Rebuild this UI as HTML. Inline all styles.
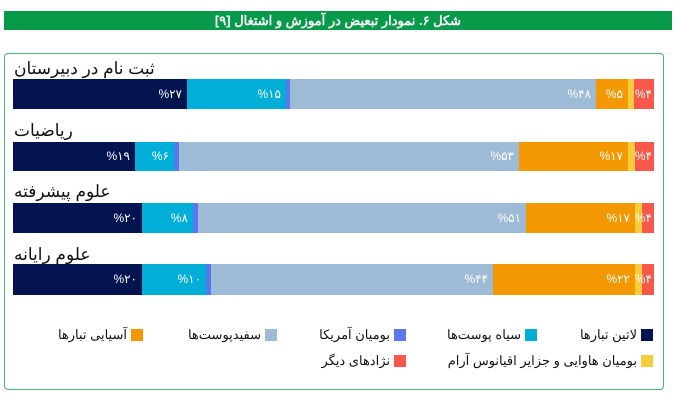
<!DOCTYPE html>
<html><head><meta charset="utf-8"><style>
body{margin:0;width:676px;height:407px;background:#fff;position:relative;overflow:hidden;font-family:"Liberation Sans","Noto Sans CJK SC",sans-serif}
.hdr{position:absolute;left:4px;top:11px;width:668px;height:19px;background:#069a4a;color:#fff;font-size:13px;font-weight:bold;text-align:center;line-height:19px;direction:rtl}
.box{position:absolute;left:4px;top:53px;width:658px;height:335px;border:1.5px solid #4db47a;border-radius:4px}
.t{position:absolute;left:14px;font-size:17px;color:#111;direction:rtl;white-space:nowrap;line-height:20px}
.s{position:absolute;height:31px}
.l{position:absolute;color:#fff;font-size:12px;line-height:31px;direction:ltr;white-space:nowrap}
.sq{position:absolute;width:12px;height:12px}
.lg{position:absolute;font-size:13px;color:#111;direction:rtl;white-space:nowrap;text-align:right;line-height:14px}
</style></head><body>
<div class="hdr">شکل ۶. نمودار تبعیض در آموزش و اشتغال [۹]</div>
<div class="box"></div>
<div id="c"></div>
<script>
const cols=['#041450','#00aed8','#5a78ee','#9dbad6','#f39800','#f5cc3c','#f9574a'];
const bars=[
 {t:'ثبت نام در دبیرستان',y:79,h:30,ty:59,e:[187,286,290,596,628,634,654],lab:['%۲۷','%۱۵','','%۴۸','%۵','','%۴']},
 {t:'ریاضیات',y:142,h:29,ty:121,e:[135,174,179,519,628,635,654],lab:['%۱۹','%۶','','%۵۳','%۱۷','','%۴']},
 {t:'علوم پیشرفته',y:203,h:30,ty:182,e:[142,193,198,526,635,642,654],lab:['%۲۰','%۸','','%۵۱','%۱۷','','%۴']},
 {t:'علوم رایانه',y:264,h:31,ty:245,e:[142,206,211,493,635,642,654],lab:['%۲۰','%۱۰','','%۴۴','%۲۲','','%۴']}];
let h='';
bars.forEach(b=>{
 h+=`<div class="t" style="top:${b.ty}px">${b.t}</div>`;
 let x=13;
 b.e.forEach((e,i)=>{
  h+=`<div class="s" style="left:${x}px;top:${b.y}px;width:${e-x}px;height:${b.h}px;background:${cols[i]}"></div>`;
  if(b.lab[i]){h+=`<div class="l" style="right:${676-e+(i==6?2:5)}px;top:${b.y}px;line-height:${b.h}px">${b.lab[i]}</div>`;}
  x=e;
 });
});
const lg=[[641,329,0,'لاتین تبارها'],[525,329,1,'سیاه پوست‌ها'],[394,329,2,'بومیان آمریکا'],[265,329,3,'سفیدپوست‌ها'],[131,329,4,'آسیایی تبارها'],[641,355,5,'بومیان هاوایی و جزایر اقیانوس آرام'],[394,355,6,'نژادهای دیگر']];
lg.forEach(a=>{
 h+=`<div class="sq" style="left:${a[0]}px;top:${a[1]}px;background:${cols[a[2]]}"></div>`;
 h+=`<div class="lg" style="right:${676-a[0]+4}px;top:${a[1]-1}px">${a[3]}</div>`;
});
document.getElementById('c').innerHTML=h;
</script>
</body></html>
